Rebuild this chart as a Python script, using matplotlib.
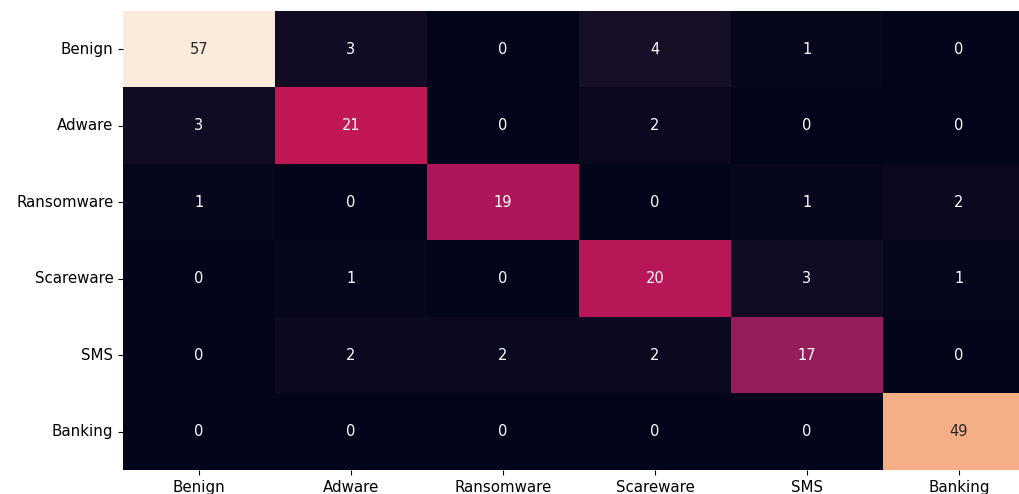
import numpy as np
import pandas as pd
import matplotlib
matplotlib.use("Agg")
import matplotlib.pyplot as plt
import matplotlib.colors as mcolors
import seaborn as sns

# clases del dataset
clases = ['Benign', 'Adware', 'Ransomware', 'Scareware', 'SMS', 'Banking']

# matriz de confusion (filas = real, columnas = prediccion)
benign = [57, 3, 0, 4, 1, 0]
adware = [3, 21, 0, 2, 0, 0]
ransomware = [1, 0, 19, 0, 1, 2]
scareware = [0, 1, 0, 20, 3, 1]
sms = [0, 2, 2, 2, 17, 0]
banking = [0, 0, 0, 0, 0, 49]

matrizDF = pd.DataFrame([benign, adware, ransomware, scareware, sms, banking],
                        index=clases, columns=clases)

# escala de color por tramos: valores medios mas vivos
tramosValor = [0, 4, 22, 49, 57]
tramosColor = [0, 0.06, 0.5, 0.84, 1.0]

def escalar(x):
    return np.interp(x, tramosValor, tramosColor)

def desescalar(y):
    return np.interp(y, tramosColor, tramosValor)

fig = plt.figure(figsize=(10.2, 4.94), dpi=100)
# el eje se sale por la derecha y por abajo, como en el recorte original
ax = fig.add_axes([123 / 1020, 24 / 494, 912 / 1020, 459 / 494])
norma = mcolors.FuncNorm((escalar, desescalar), vmin=0, vmax=57)
sns.heatmap(matrizDF, annot=True, fmt='d', cbar=False, ax=ax, norm=norma,
            annot_kws={'fontsize': 10.5})
ax.tick_params(axis='both', labelsize=10.8)
plt.yticks(rotation=0)
plt.xticks(rotation=0)
plt.savefig("out.png", dpi=100)
